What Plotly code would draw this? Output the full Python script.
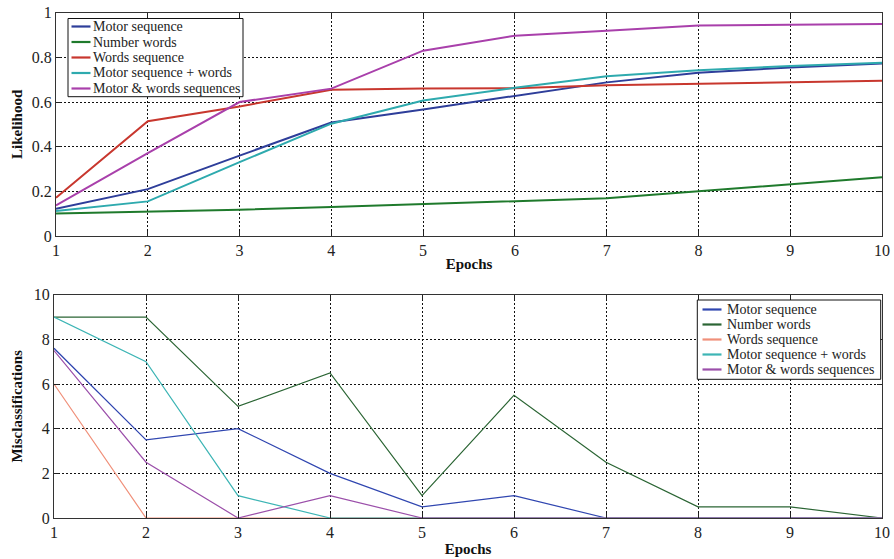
import plotly.graph_objects as go

epochs = [1, 2, 3, 4, 5, 6, 7, 8, 9, 10]
series_names = [
    "Motor sequence",
    "Number words",
    "Words sequence",
    "Motor sequence + words",
    "Motor & words sequences",
]

# Likelihood per epoch
lik_motor = [0.122, 0.21, 0.36, 0.508, 0.567, 0.628, 0.688, 0.731, 0.755, 0.773]
lik_number = [0.101, 0.109, 0.118, 0.13, 0.143, 0.155, 0.169, 0.2, 0.233, 0.263]
lik_words = [0.171, 0.514, 0.58, 0.655, 0.66, 0.662, 0.675, 0.682, 0.69, 0.695]
lik_motor_words = [0.112, 0.155, 0.331, 0.503, 0.607, 0.664, 0.715, 0.742, 0.761, 0.776]
lik_motor_and_words = [0.137, 0.371, 0.6, 0.66, 0.83, 0.897, 0.919, 0.943, 0.946, 0.949]

# Misclassifications per epoch
mis_motor = [7.6, 3.5, 4, 2, 0.5, 1, 0, 0, 0, 0]
mis_number = [9, 9, 5, 6.5, 1, 5.5, 2.5, 0.5, 0.5, 0]
mis_words = [6, 0, 0, 0, 0, 0, 0, 0, 0, 0]
mis_motor_words = [9, 7, 1, 0, 0, 0, 0, 0, 0, 0]
mis_motor_and_words = [7.5, 2.5, 0, 1, 0, 0, 0, 0, 0, 0]

top_colors = ["#2E3E9A", "#1F7A2C", "#C8372E", "#2EAAAE", "#A940AB"]
bottom_colors = ["#3046B0", "#2B6534", "#F0907A", "#3DB5B5", "#9B4FAA"]

top_values = [lik_motor, lik_number, lik_words, lik_motor_words, lik_motor_and_words]
bottom_values = [mis_motor, mis_number, mis_words, mis_motor_words, mis_motor_and_words]

FONT = "Liberation Serif, Times New Roman, serif"
W, H = 894, 559
M_L, M_R, M_T, M_B = 54, 12, 12, 41
PW, PH = W - M_L - M_R, H - M_T - M_B

fig = go.Figure()

for name, vals, col in zip(series_names, top_values, top_colors):
    fig.add_trace(go.Scatter(
        x=epochs, y=vals, mode="lines", name=name, showlegend=False,
        line=dict(color=col, width=2), xaxis="x", yaxis="y",
    ))

for name, vals, col in zip(series_names, bottom_values, bottom_colors):
    fig.add_trace(go.Scatter(
        x=epochs, y=vals, mode="lines", name=name, showlegend=False,
        line=dict(color=col, width=1.2), xaxis="x2", yaxis="y2",
    ))


def px(x, y):
    """Pixel position -> paper coordinates (paper = plotting area)."""
    return (x - M_L) / PW, (H - M_B - y) / PH


def dom_x(a, b):
    return [px(a, 0)[0], px(b, 0)[0]]


def dom_y(top, bottom):
    return [px(0, bottom)[1], px(0, top)[1]]


def boxed_legend(box, first_row, step, sample_x, text_x, colors, line_width):
    """Framed key: a coloured line sample and a label for each series."""
    x0, y0 = px(box[0], box[1])
    x1, y1 = px(box[2], box[3])
    fig.add_shape(type="rect", xref="paper", yref="paper",
                  x0=x0, y0=y0, x1=x1, y1=y1,
                  line=dict(color="#111111", width=1), fillcolor="white", layer="above")
    for i, (name, col) in enumerate(zip(series_names, colors)):
        ry = first_row + i * step
        sx0, sy = px(sample_x[0], ry)
        sx1, _ = px(sample_x[1], ry)
        fig.add_shape(type="line", xref="paper", yref="paper",
                      x0=sx0, y0=sy, x1=sx1, y1=sy,
                      line=dict(color=col, width=line_width), layer="above")
        tx, _ = px(text_x, ry)
        fig.add_annotation(xref="paper", yref="paper", x=tx, y=sy,
                           xanchor="left", yanchor="middle", showarrow=False,
                           text=name, font=dict(family=FONT, size=14, color="#222222"))


boxed_legend((68, 18.5, 243, 96.7), 26.5, 15.5, (71.5, 90.5), 91, top_colors, 2.2)
boxed_legend((697.3, 300, 880.7, 379.3), 309.5, 15.0, (702.5, 721.5), 724.5, bottom_colors, 2.2)

axis_common = dict(
    showline=True, mirror="ticks", linecolor="#333333", linewidth=1.2,
    ticks="inside", ticklen=5, tickcolor="#222222",
    showgrid=True, gridcolor="#111111", gridwidth=1, griddash="2px,2px",
    zeroline=False, layer="above traces", automargin=False,
    tickfont=dict(family=FONT, size=16, color="#222222"),
)
title_font = dict(family=FONT, size=15, color="#111111")

fig.update_layout(
    width=W, height=H,
    margin=dict(l=M_L, r=M_R, t=M_T, b=M_B),
    paper_bgcolor="white", plot_bgcolor="white",
    showlegend=False,
    xaxis=dict(
        domain=dom_x(56, 882), anchor="y", range=[1, 10],
        tickvals=epochs, title=dict(text="<b>Epochs</b>", font=title_font, standoff=0),
        **axis_common,
    ),
    yaxis=dict(
        domain=dom_y(12.7, 236), anchor="x", range=[0, 1],
        tickvals=[0, 0.2, 0.4, 0.6, 0.8, 1], ticktext=["0", "0.2", "0.4", "0.6", "0.8", "1"],
        title=dict(text="<b>Likelihood</b>", font=title_font, standoff=5),
        **axis_common,
    ),
    xaxis2=dict(
        domain=dom_x(54, 882), anchor="y2", range=[1, 10],
        tickvals=epochs, title=dict(text="<b>Epochs</b>", font=title_font, standoff=3),
        **axis_common,
    ),
    yaxis2=dict(
        domain=dom_y(294.7, 518), anchor="x2", range=[0, 10],
        tickvals=[0, 2, 4, 6, 8, 10],
        title=dict(text="<b>Misclassifications</b>", font=title_font, standoff=7),
        **axis_common,
    ),
)

fig.write_html("out.html")
